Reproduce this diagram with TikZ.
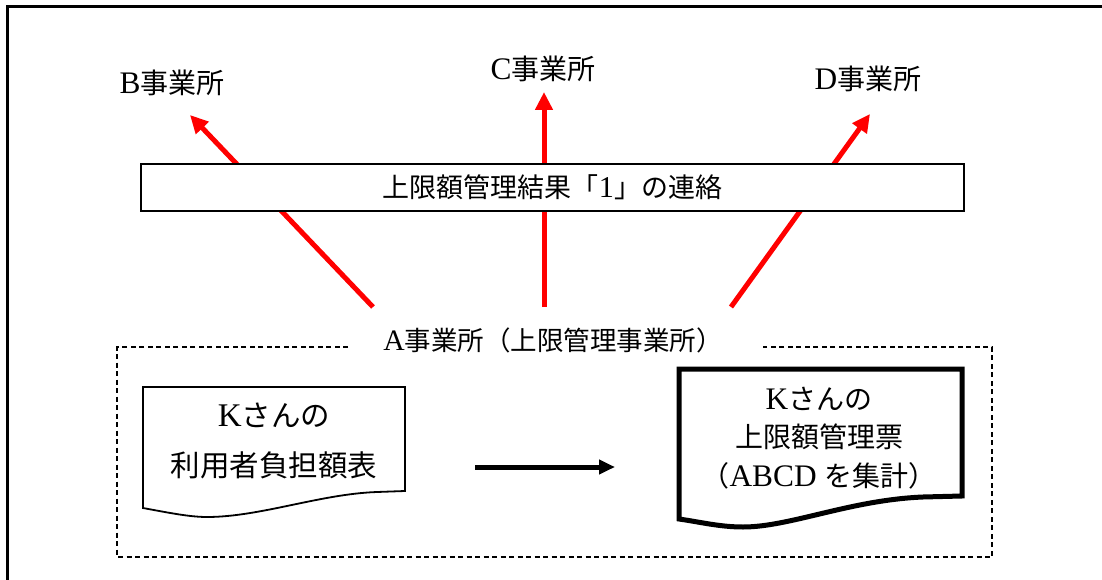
\documentclass[tikz,border=0pt]{standalone}
\usepackage{fontspec}
\setmainfont{Liberation Serif}[Scale=1.12]
\newfontfamily\cjk{Noto Sans CJK JP}
\usetikzlibrary{arrows.meta}
\tikzset{
  txt/.style={inner sep=0pt, font=\fontsize{28pt}{32pt}\selectfont, text=black},
  redarrow/.style={draw=red, line width=5pt, -{Triangle[length=18pt,width=17pt]}},
  blackarrow/.style={draw=black, line width=5pt, -{Triangle[length=16pt,width=14pt]}},
  frame/.style={draw=black, line width=3pt},
  strip/.style={draw=black, line width=2pt, fill=white, minimum width=823pt, minimum height=47pt, inner sep=0pt, font=\fontsize{27pt}{30pt}\selectfont},
  dashbox/.style={draw=black, line width=1.3pt, dash pattern=on 5pt off 3.5pt},
  docthin/.style={draw=black, line width=1.8pt, line join=miter},
  docthick/.style={draw=black, line width=5pt, line join=miter},
}
\begin{document}
\begin{tikzpicture}[x=1pt,y=-1pt]
\useasboundingbox (0,0) rectangle (1102,580);
% outer frame (top and left only)
\draw[frame] (7,580) -- (7,7) -- (1102,7);

% labels of offices
\node[txt] (B) at (172,83) {B{\cjk 事業所}};
\node[txt] (C) at (543,69) {C{\cjk 事業所}};
\node[txt] (D) at (868,79) {D{\cjk 事業所}};

% arrow end points
\coordinate (bs) at (373,307);
\coordinate (bt) at (190,115);
\coordinate (cs) at (544,307);
\coordinate (ct) at (544,92);
\coordinate (ds) at (731,307);
\coordinate (dt) at (870,114);

\draw[redarrow] (bs) -- (bt);
\draw[redarrow] (cs) -- (ct);
\draw[redarrow] (ds) -- (dt);

% strip
\node[strip] (S) at (552.5,187.5) {{\cjk 上限額管理結果「}1{\cjk 」の連絡}};

% A office label
\node[txt, font=\fontsize{26.5pt}{30pt}\selectfont] (A) at (553,340) {A{\cjk 事業所（上限管理事業所）}};

% dashed enclosure
\draw[dashbox] (348,347) -- (117,347) -- (117,557) -- (992,557) -- (992,347) -- (763,347);

% left document
\draw[docthin] (143,387) -- (405,387) -- (405,491) -- (377,492)
  .. controls (320,494) and (260,517) .. (207,517)
  .. controls (190,517) and (170,513) .. (143,508) -- cycle;
\node[txt, align=center, font=\fontsize{29.5pt}{50pt}\selectfont] (L) at (274,441) {K{\cjk さんの}\\{\cjk 利用者負担額表}};

% right document
\draw[docthick] (679,369) -- (962,369) -- (962,496) -- (923,497)
  .. controls (850,500) and (790,527) .. (743,527)
  .. controls (720,527) and (700,522) .. (679,519) -- cycle;
\node[txt, align=center, font=\fontsize{28pt}{38.5pt}\selectfont] (R) at (819,438) {K{\cjk さんの}\\{\cjk 上限額管理票}\\{\cjk （}ABCD {\cjk を集計）}};

% black arrow
\coordinate (as) at (475,467);
\coordinate (at) at (615,467);
\draw[blackarrow] (as) -- (at);
\end{tikzpicture}
\end{document}
